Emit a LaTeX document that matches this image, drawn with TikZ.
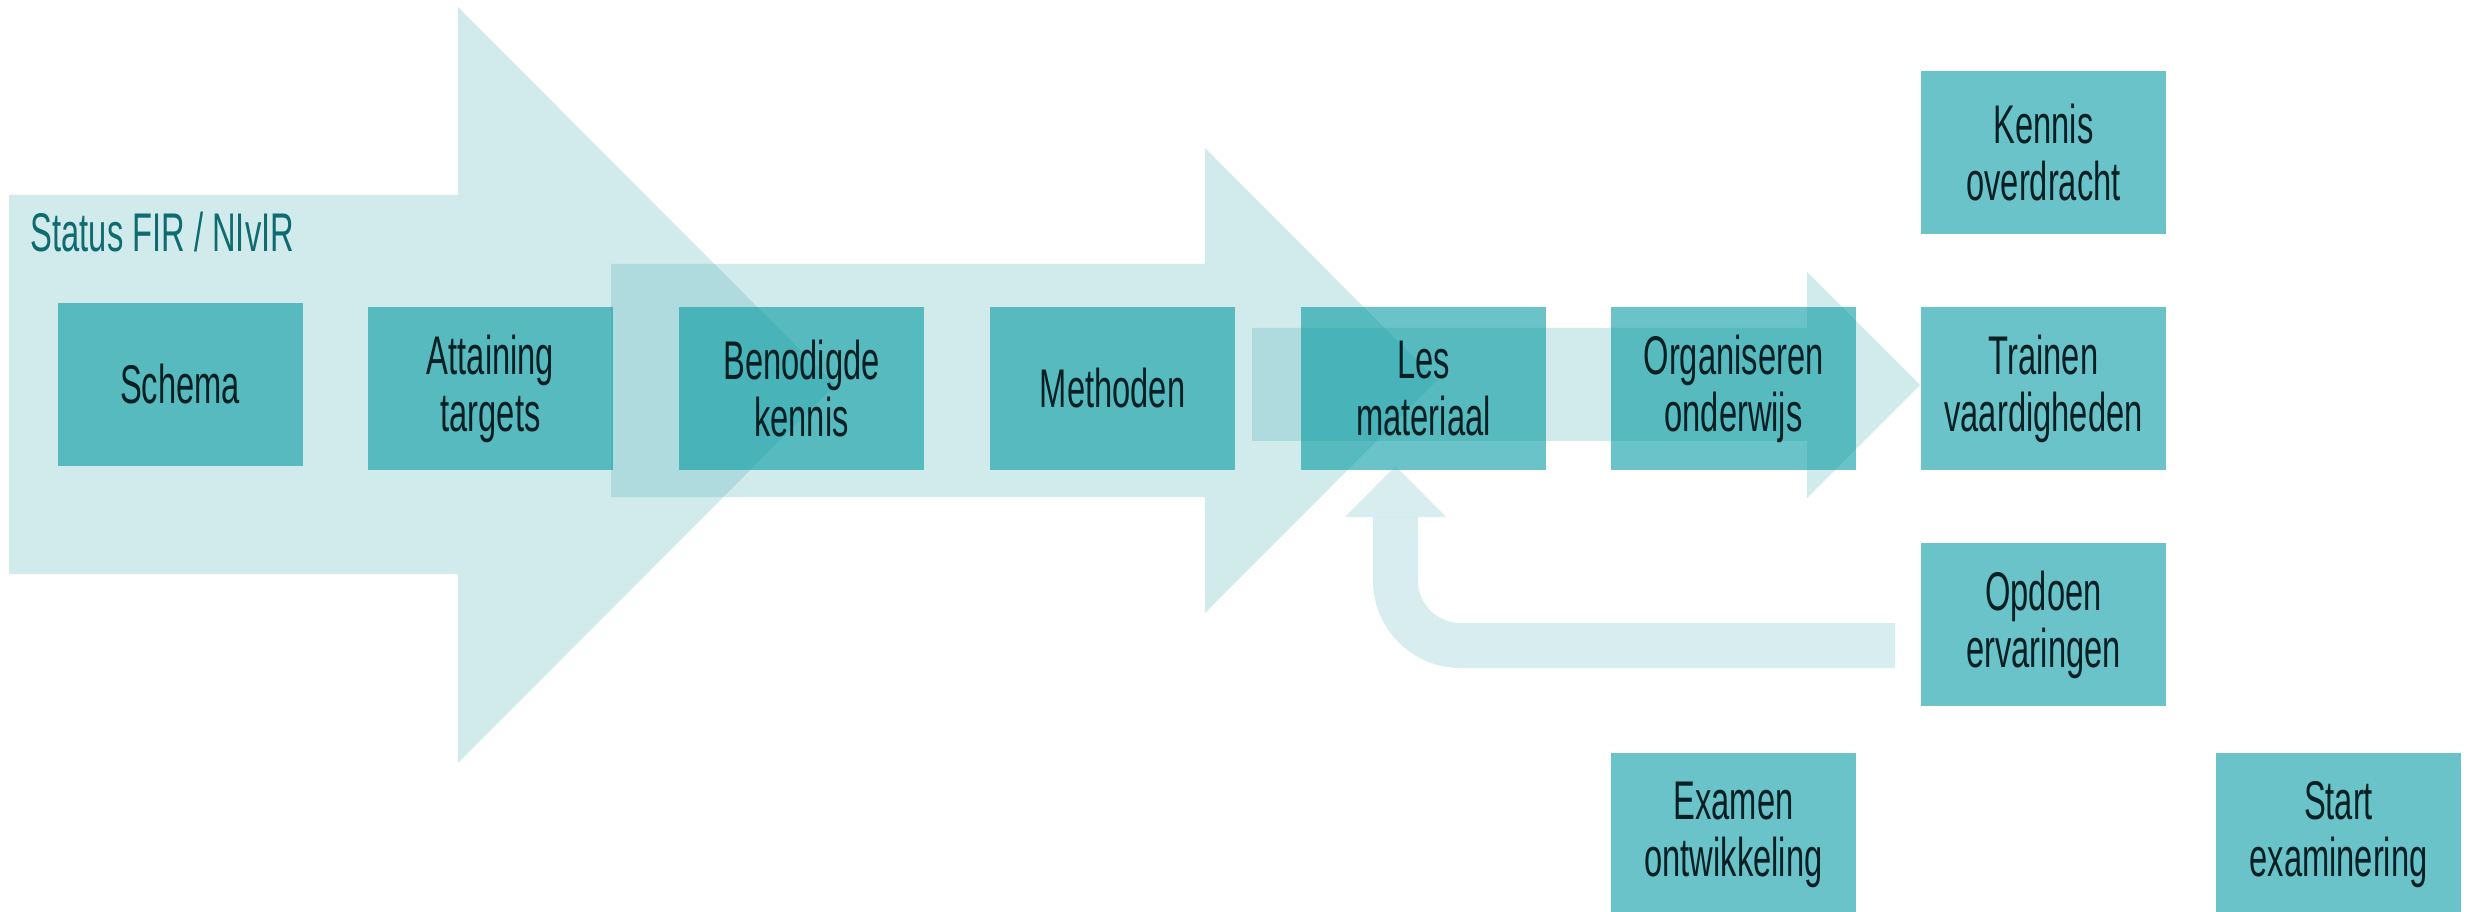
\documentclass[tikz,border=0pt]{standalone}
\usepackage{fontspec}
\setmainfont{Liberation Sans}[FakeStretch=0.6]
\definecolor{arrowteal}{RGB}{75,172,180}
\definecolor{boxteal}{RGB}{1,153,161}
\definecolor{statusteal}{RGB}{14,107,112}
\definecolor{boxtext}{RGB}{8,32,35}
\tikzset{
  flowarrow/.style={fill=arrowteal, fill opacity=0.255, draw=none},
  stepbox/.style={fill=boxteal, fill opacity=0.59, text opacity=1, text=boxtext,
    minimum width=24.5mm, minimum height=16.3mm, inner sep=0pt, align=center,
    font=\fontsize{15.5}{16.2}\selectfont},
  backline/.style={draw=arrowteal, draw opacity=0.22, line width=4.5mm, rounded corners=6.5mm},
  backhead/.style={fill=arrowteal, fill opacity=0.22, draw=none}
}

\begin{document}
\begin{tikzpicture}[x=0.1mm, y=-0.1mm]
\useasboundingbox (0,0) rectangle (2466,912);
%
\fill[flowarrow] (9,195) -- (458,195) -- (458,7) -- (835,385) -- (458,763) -- (458,574) -- (9,574) -- cycle;
\fill[flowarrow] (611,264) -- (1205,264) -- (1205,148) -- (1437,380.5) -- (1205,613) -- (1205,497) -- (611,497) -- cycle;
\fill[flowarrow] (1252,328) -- (1807,328) -- (1807,272) -- (1920,385) -- (1807,498) -- (1807,441) -- (1252,441) -- cycle;
%
\node[anchor=base west, inner sep=0pt, text=statusteal, font=\fontsize{15.5}{16.2}\selectfont] (status) at (30,252) {Status FIR / NIvIR};
%
\node[stepbox] (schema) at (180,384.5) {Schema};
\foreach \name/\x/\txt in {attaining/490.5/{Attaining\\targets}, benodigd/801.5/{Benodigde\\kennis},
    methoden/1112.5/{Methoden}, lesmat/1423.5/{Les\\materiaal}, organis/1733.5/{Organiseren\\onderwijs},
    trainen/2043.5/{Trainen\\vaardigheden}} {
    \node[stepbox] (\name) at (\x,388.5) {\txt};
}
\node[stepbox] (kennis) at (2043.5,152.5) {Kennis\\overdracht};
\node[stepbox] (opdoen) at (2043.5,624.5) {Opdoen\\ervaringen};
\node[stepbox] (examen) at (1733.5,834.5) {Examen\\ontwikkeling};
\node[stepbox] (start) at (2338.5,834.5) {Start\\examinering};
%
\coordinate (fbstart) at (1895,645.5);
\coordinate (fbneck) at (1395.5,517);
\coordinate (fbtip) at (1395.5,466);
\draw[backline] (fbstart) -| (fbneck);
\fill[backhead] ([xshift=-5.05mm]fbneck) -- ([xshift=5.05mm]fbneck) -- (fbtip) -- cycle;
\end{tikzpicture}
\end{document}
